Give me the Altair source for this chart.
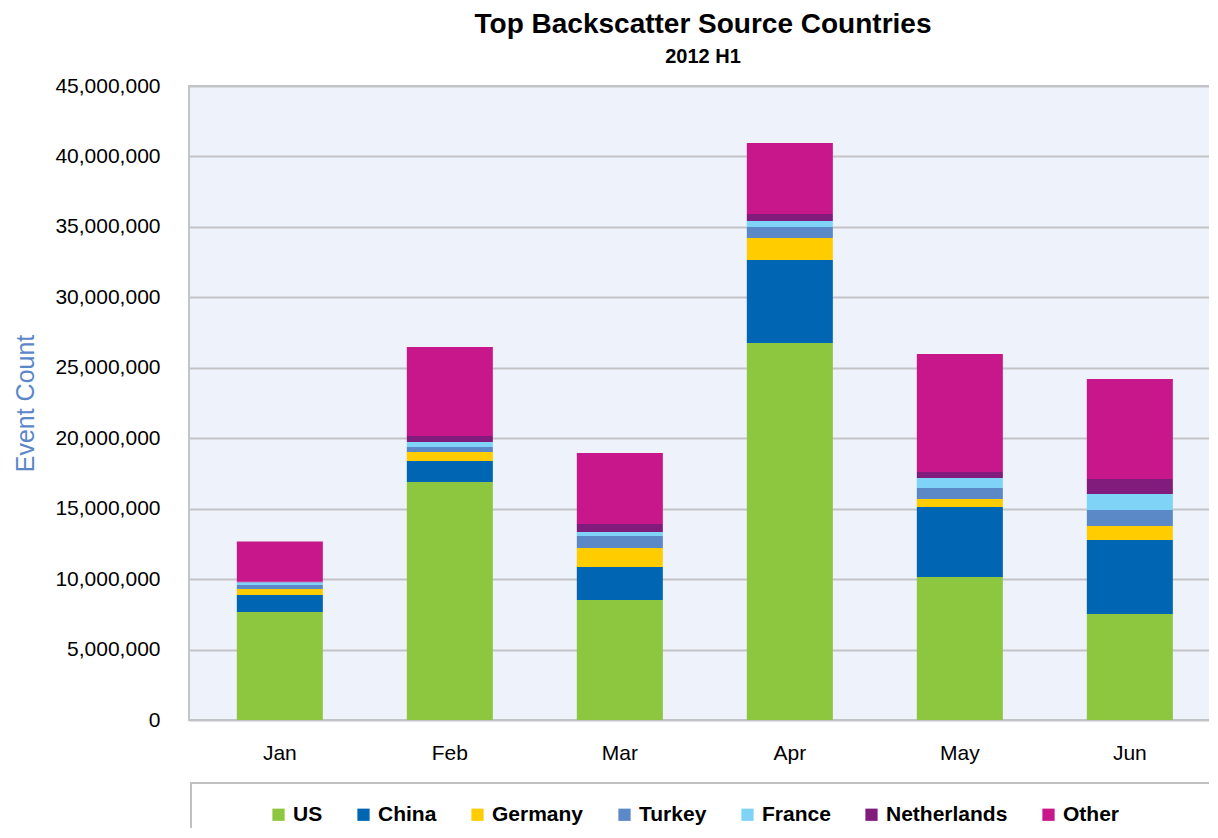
import altair as alt
import pandas as pd

months = ["Jan", "Feb", "Mar", "Apr", "May", "Jun"]
countries = ["US", "China", "Germany", "Turkey", "France", "Netherlands", "Other"]
colors = ["#8DC63F", "#0066B3", "#FFCC00", "#5B89C7", "#7FD3F6", "#821C7C", "#C8178A"]

us = [7.66, 16.89, 8.52, 26.76, 10.15, 7.52]
china = [1.21, 1.49, 2.34, 5.89, 4.97, 5.25]
germany = [0.43, 0.64, 1.35, 1.56, 0.56, 1.00]
turkey = [0.28, 0.36, 0.85, 0.78, 0.79, 1.13]
france = [0.19, 0.35, 0.28, 0.43, 0.71, 1.14]
netherlands = [0.04, 0.43, 0.57, 0.49, 0.42, 1.06]
other = [2.86, 6.31, 5.04, 5.04, 8.38, 7.10]

series = [us, china, germany, turkey, france, netherlands, other]
rows = []
for ci, (c, vals) in enumerate(zip(countries, series)):
    for m, v in zip(months, vals):
        rows.append({"Month": m, "Country": c, "idx": ci, "Events": v * 1_000_000})
df = pd.DataFrame(rows)

FONT = "Liberation Sans"

bars = alt.Chart(df).mark_bar().encode(
    x=alt.X("Month:N", sort=months,
            scale=alt.Scale(paddingInner=0.494, paddingOuter=0.2705, align=0.52),
            axis=alt.Axis(title=None, labelAngle=0, ticks=False, tickSize=0, domain=False,
                          labelPadding=22, labelFontSize=21, labelFont=FONT, labelColor="#000000",
                          grid=False)),
    y=alt.Y("Events:Q", stack="zero",
            scale=alt.Scale(domain=[0, 45_000_000], nice=False),
            axis=alt.Axis(title="Event Count", values=[i * 5_000_000 for i in range(10)],
                          format=",d", ticks=False, tickSize=0, domain=False,
                          labelPadding=29, labelFontSize=21, labelFont=FONT, labelColor="#000000",
                          gridColor="#C3C4C8", gridWidth=2,
                          titleFont=FONT, titleFontSize=25, titleFontWeight="normal",
                          titleColor="#5B87C9", titleX=-164, titleY=317, titleAngle=-90,
                          titleAlign="center", titleBaseline="middle")),
    color=alt.Color("Country:N", scale=alt.Scale(domain=countries, range=colors),
                    legend=alt.Legend(title=None, orient="none", direction="horizontal",
                                      legendX=79, legendY=718, symbolType="square",
                                      symbolSize=150, symbolStrokeWidth=0, symbolOpacity=1,
                                      labelFontSize=21, labelFont=FONT, labelFontWeight="bold",
                                      labelColor="#000000", labelOffset=4, columnPadding=30,
                                      padding=0)),
    order=alt.Order("idx:Q", sort="ascending"),
)

box = alt.Chart(pd.DataFrame({"a": [0]})).mark_rect(
    fill="#FFFFFF", stroke="#C0C0C0", strokeWidth=2
).encode(x=alt.value(2), x2=alt.value(1045), y=alt.value(697), y2=alt.value(790))

chart = alt.layer(box, bars).properties(
    width=1028, height=634,
    autosize=alt.AutoSizeParams(type="none"),
    padding={"left": 181, "top": 78, "right": -8, "bottom": 108},
    title=alt.TitleParams(text="Top Backscatter Source Countries", subtitle="2012 H1",
                          anchor="middle", frame="group", font=FONT, fontSize=28,
                          fontWeight="bold", color="#000000", subtitleFont=FONT,
                          subtitleFontSize=20, subtitleFontWeight="bold",
                          subtitleColor="#000000", subtitlePadding=8, offset=8),
).configure_view(fill="#EEF2FA", stroke="#C3C4C8", strokeWidth=2)

chart.save("out.html", embed_options={"renderer": "svg", "actions": False})
